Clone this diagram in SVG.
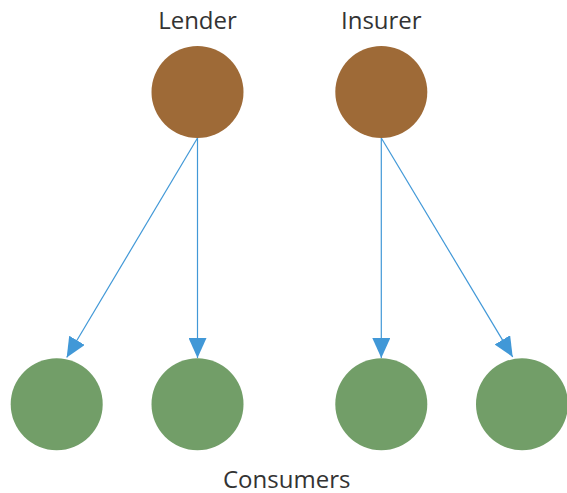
<svg xmlns="http://www.w3.org/2000/svg" width="567" height="493" viewBox="0 0 567 493">
  <defs>
    <marker id="arrow" viewBox="0 0 20 18" refX="20" refY="9" markerWidth="20" markerHeight="18" markerUnits="userSpaceOnUse" orient="auto">
      <path d="M0,0 L20,9 L0,18 Z" fill="#4198d7"/>
    </marker>
    <style>
      .label { font-family: "Open Sans", "Noto Sans", sans-serif; font-size: 24px; fill: #333333; text-anchor: middle; }
      .party { fill: #9e6a37; }
      .consumer { fill: #729e68; }
      .link { stroke: #4198d7; stroke-width: 1.2; fill: none; marker-end: url(#arrow); }
    </style>
  </defs>
  <rect width="567" height="493" fill="#ffffff"/>

  <g id="connectors">
    <line class="link" x1="197.5" y1="138" x2="66.7" y2="357.5"/>
    <line class="link" x1="197.5" y1="138" x2="197.5" y2="358"/>
    <line class="link" x1="381.3" y1="138" x2="381.3" y2="358"/>
    <line class="link" x1="381.3" y1="138" x2="512.7" y2="357"/>
  </g>

  <g id="lender">
    <circle class="party" cx="197.5" cy="92" r="46"/>
    <text class="label" x="197.5" y="28.5">Lender</text>
  </g>
  <g id="insurer">
    <circle class="party" cx="381.3" cy="92" r="46"/>
    <text class="label" x="381.3" y="28.5">Insurer</text>
  </g>

  <g id="consumer-1"><circle class="consumer" cx="56.7" cy="404.2" r="46"/></g>
  <g id="consumer-2"><circle class="consumer" cx="197.5" cy="404.2" r="46"/></g>
  <g id="consumer-3"><circle class="consumer" cx="381.3" cy="404.2" r="46"/></g>
  <g id="consumer-4"><circle class="consumer" cx="522" cy="404.2" r="46"/></g>

  <g id="consumers-label">
    <text class="label" x="286.7" y="488.3">Consumers</text>
  </g>
</svg>
